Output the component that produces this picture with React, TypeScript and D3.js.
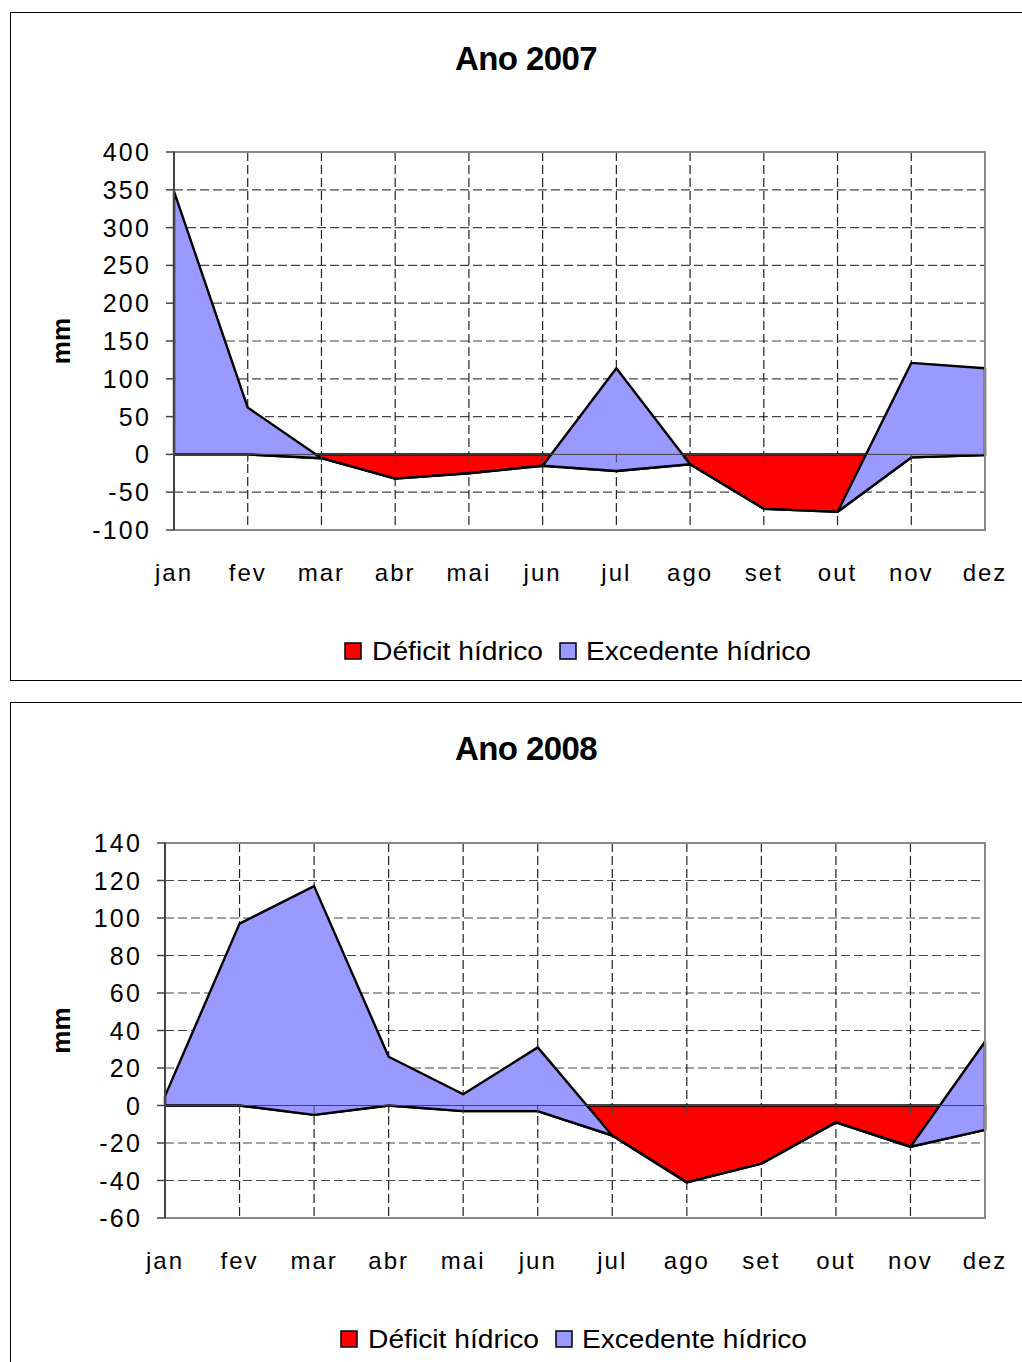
import React from 'react'
import * as d3 from 'd3'

const months = ['jan', 'fev', 'mar', 'abr', 'mai', 'jun', 'jul', 'ago', 'set', 'out', 'nov', 'dez']

// Ano 2007
const deficit2007 = [0, 0, -5, -32, -25, -15, -22, -13, -72, -76, -4, -1]
const excedente2007 = [348, 62, 0, 0, 0, 0, 136, 0, 0, 0, 125, 115]
const ticks2007 = [400, 350, 300, 250, 200, 150, 100, 50, 0, -50, -100]

// Ano 2008
const deficit2008 = [0, 0, -5, 0, -3, -3, -16, -41, -31, -9, -22, -13]
const excedente2008 = [5, 97, 122, 26, 9, 34, 0, 0, 0, 0, 0, 47]
const ticks2008 = [140, 120, 100, 80, 60, 40, 20, 0, -20, -40, -60]

const legendItems = [
  { label: 'Déficit hídrico', color: '#FF0000' },
  { label: 'Excedente hídrico', color: '#9999FF' },
]

const FONT = '"Liberation Sans", Arial, sans-serif'

interface PanelProps {
  title: string
  top: number
  height: number
  plot: { left: number; right: number; top: number; bottom: number }
  deficit: number[]
  excedente: number[]
  ticks: number[]
  legendX: number
}

function Panel({ title, top, height, plot, deficit, excedente, ticks, legendX }: PanelProps) {
  const x = d3.scalePoint<string>().domain(months).range([plot.left, plot.right])
  const y = d3
    .scaleLinear()
    .domain([d3.min(ticks) as number, d3.max(ticks) as number])
    .range([plot.bottom, plot.top])

  const rows = months.map((m, i) => ({ m, d: deficit[i], e: excedente[i] }))

  const redArea = d3
    .area<(typeof rows)[number]>()
    .x((r) => x(r.m) as number)
    .y0(() => y(0))
    .y1((r) => y(r.d))

  const blueArea = d3
    .area<(typeof rows)[number]>()
    .x((r) => x(r.m) as number)
    .y0((r) => y(r.d))
    .y1((r) => y(r.d + r.e))

  const midY = (plot.top + plot.bottom) / 2
  const legendY = plot.bottom + 121

  return (
    <g>
      <rect x={10.5} y={top + 0.5} width={1030} height={height} fill="white" stroke="black" strokeWidth={1} />
      <text
        x={526}
        y={top + 58}
        textAnchor="middle"
        fontFamily={FONT}
        fontWeight="bold"
        fontSize={33}
        letterSpacing={-0.6}
      >
        {title}
      </text>

      {/* gridlines */}
      {ticks.map((t) => (
        <line
          key={'h' + t}
          x1={plot.left}
          x2={plot.right}
          y1={y(t)}
          y2={y(t)}
          stroke="#444"
          strokeWidth={1.2}
          strokeDasharray="9,4"
        />
      ))}
      {months.map((m) => (
        <line
          key={'v' + m}
          x1={x(m)}
          x2={x(m)}
          y1={plot.top}
          y2={plot.bottom}
          stroke="#222"
          strokeWidth={1.2}
          strokeDasharray="9,4"
        />
      ))}

      {/* areas */}
      <path d={redArea(rows) ?? ''} fill="#FF0000" stroke="black" strokeWidth={2.4} strokeLinejoin="round" />
      <path d={blueArea(rows) ?? ''} fill="#9999FF" stroke="black" strokeWidth={2.4} strokeLinejoin="round" />

      {/* category axis at zero */}
      <line x1={plot.left} x2={plot.right} y1={y(0)} y2={y(0)} stroke="#444" strokeWidth={1} />
      {months.map((m) => (
        <line key={'t' + m} x1={x(m)} x2={x(m)} y1={y(0)} y2={y(0) + 8} stroke="#444" strokeWidth={1} />
      ))}

      {/* plot border */}
      <rect
        x={plot.left}
        y={plot.top}
        width={plot.right - plot.left}
        height={plot.bottom - plot.top}
        fill="none"
        stroke="#888"
        strokeWidth={2}
      />
      <line x1={plot.left} x2={plot.left} y1={plot.top} y2={plot.bottom} stroke="#444" strokeWidth={2} />
      {ticks.map((t) => (
        <line key={'yt' + t} x1={plot.left - 8} x2={plot.left} y1={y(t)} y2={y(t)} stroke="#444" strokeWidth={1.5} />
      ))}

      {/* y tick labels */}
      {ticks.map((t) => (
        <text
          key={'yl' + t}
          x={plot.left - 23}
          y={y(t)}
          dy="0.36em"
          textAnchor="end"
          fontFamily={FONT}
          fontSize={25}
          letterSpacing={2.2}
        >
          {t}
        </text>
      ))}

      {/* x labels */}
      {months.map((m) => (
        <text
          key={'xl' + m}
          x={x(m)}
          y={plot.bottom + 51}
          textAnchor="middle"
          fontFamily={FONT}
          fontSize={24}
          letterSpacing={2}
        >
          {m}
        </text>
      ))}

      <text
        transform={`translate(70, ${midY}) rotate(-90)`}
        textAnchor="middle"
        fontFamily={FONT}
        fontWeight="bold"
        fontSize={26}
      >
        mm
      </text>

      {/* legend */}
      <g transform={`translate(${legendX}, ${legendY})`}>
        <rect x={0} y={-8} width={16} height={16} fill={legendItems[0].color} stroke="black" strokeWidth={1.5} />
        <text x={27} y={0} dy="0.36em" fontFamily={FONT} fontSize={25} textLength={171} lengthAdjust="spacingAndGlyphs">
          {legendItems[0].label}
        </text>
        <rect x={215} y={-8} width={16} height={16} fill={legendItems[1].color} stroke="black" strokeWidth={1.5} />
        <text x={241} y={0} dy="0.36em" fontFamily={FONT} fontSize={25} textLength={225} lengthAdjust="spacingAndGlyphs">
          {legendItems[1].label}
        </text>
      </g>
    </g>
  )
}

export default function App() {
  return (
    <svg
      width={1022}
      height={1362}
      style={{ position: 'absolute', left: 0, top: 0, display: 'block', background: 'white' }}
    >
      <rect x={0} y={0} width={1022} height={1362} fill="white" />
      <Panel
        title="Ano 2007"
        top={12}
        height={668}
        plot={{ left: 174, right: 985, top: 152, bottom: 530 }}
        deficit={deficit2007}
        excedente={excedente2007}
        ticks={ticks2007}
        legendX={345}
      />
      <Panel
        title="Ano 2008"
        top={702}
        height={700}
        plot={{ left: 165, right: 985, top: 843, bottom: 1218 }}
        deficit={deficit2008}
        excedente={excedente2008}
        ticks={ticks2008}
        legendX={341}
      />
    </svg>
  )
}
